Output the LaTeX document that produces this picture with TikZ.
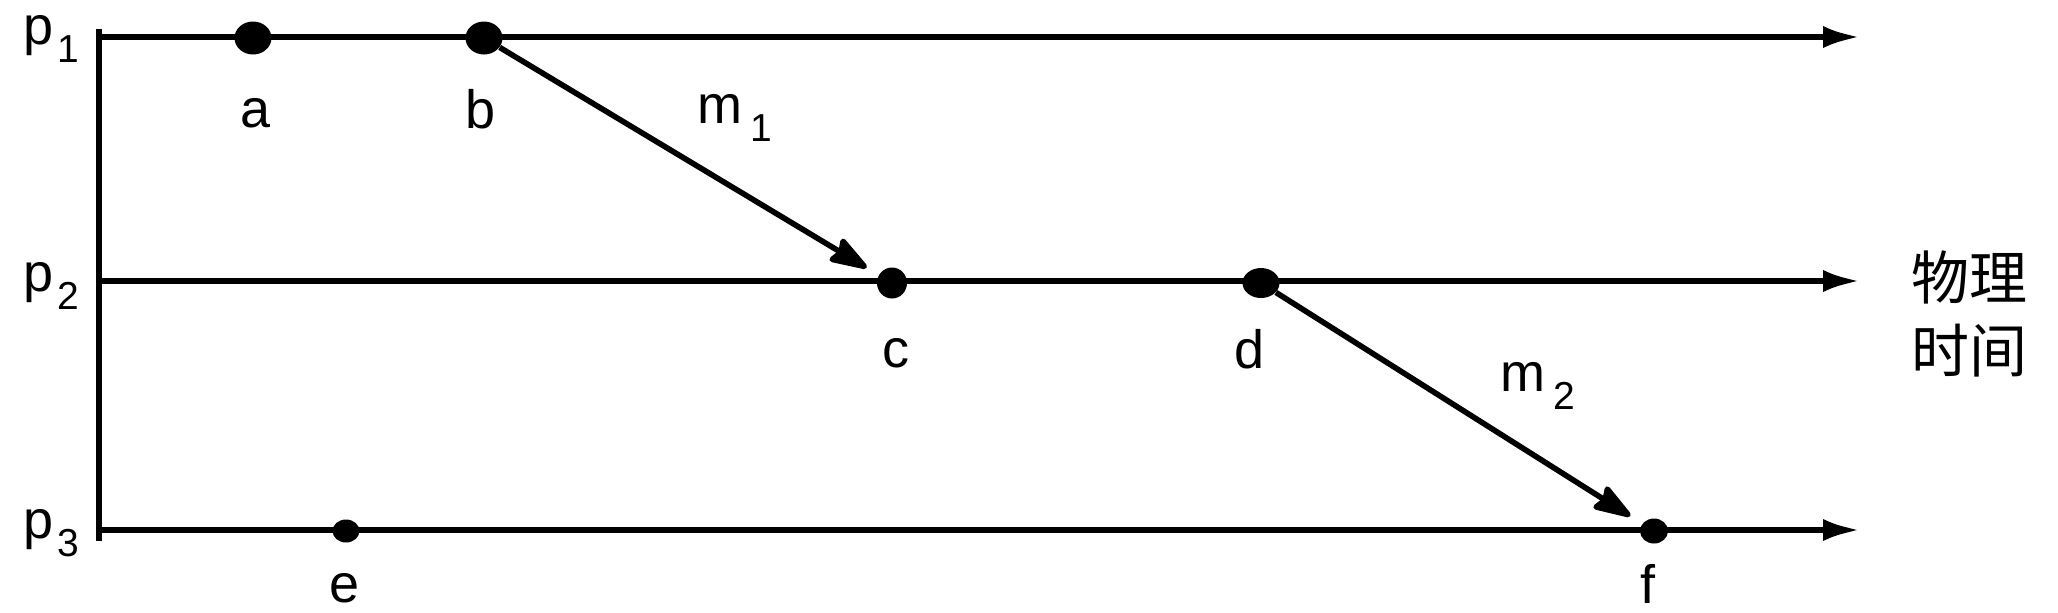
\documentclass[tikz,border=0pt]{standalone}
\usepackage{fontspec}
\setmainfont{Liberation Sans}
\newfontfamily\cjk{Noto Sans CJK SC}
\usetikzlibrary{arrows.meta,shapes.geometric}
\newcommand\lowsub[1]{\raisebox{-9pt}{\fontsize{19.5}{20}\selectfont #1}}
\begin{document}
\begin{tikzpicture}[x=0.5pt,y=-0.5pt,
  axisline/.style={line width=3.4pt},
  tline/.style={line width=3.3pt,-{Latex[length=19pt,width=11pt]}},
  msg/.style={line width=2.8pt,-{Stealth[length=22pt,width=14.5pt,inset=2.5pt,round]},shorten >=7pt},
  ev/.style={ellipse,fill=black,inner sep=0pt},
  lbl/.style={font=\fontsize{27}{28}\selectfont,inner sep=0pt},
]
\useasboundingbox (0,0) rectangle (2058,612);
% axis and process lines
\coordinate (ax1) at (99,29);
\coordinate (ax2) at (99,541);
\coordinate (s1) at (99,37);
\coordinate (t1) at (1861,37);
\coordinate (s2) at (99,281);
\coordinate (t2) at (1861,281);
\coordinate (s3) at (99,530);
\coordinate (t3) at (1861,530);
\draw[axisline] (ax1) -- (ax2);
\draw[tline] (s1) -- (t1);
\draw[tline] (s2) -- (t2);
\draw[tline] (s3) -- (t3);
% events
\node[ev,minimum width=18.5pt,minimum height=16.5pt] (a) at (253,38) {};
\node[ev,minimum width=18.5pt,minimum height=16.5pt] (b) at (484,38) {};
\node[ev,minimum width=15pt,minimum height=15.5pt] (c) at (892,283) {};
\node[ev,minimum width=18.5pt,minimum height=15pt] (d) at (1261,283) {};
\node[ev,minimum width=13.5pt,minimum height=11.5pt] (e) at (346,531) {};
\node[ev,minimum width=14pt,minimum height=12.5pt] (f) at (1654,531) {};
% messages
\draw[msg] (b) -- (c);
\draw[msg] (d) -- (f);
% labels
\node[lbl] (p1) at (51,39) {p\hspace{2pt}\lowsub{1}};
\node[lbl] (p2) at (51,286) {p\hspace{2pt}\lowsub{2}};
\node[lbl] (p3) at (51,533) {p\hspace{2pt}\lowsub{3}};
\node[lbl] (la) at (256,113) {a};
\node[lbl] (lb) at (481,109) {b};
\node[lbl] (lc) at (896,353) {c};
\node[lbl] (ld) at (1250,349) {d};
\node[lbl] (le) at (345,588) {e};
\node[lbl] (lf) at (1648,584) {f};
\node[lbl] (m1) at (735,118) {m\hspace{4pt}\lowsub{1}};
\node[lbl] (m2) at (1538,386) {m\hspace{4pt}\lowsub{2}};
\node[font=\cjk\fontsize{29}{36.5}\selectfont,align=center,inner sep=0pt] (pt) at (1969,314) {物理\\时间};
\end{tikzpicture}
\end{document}
